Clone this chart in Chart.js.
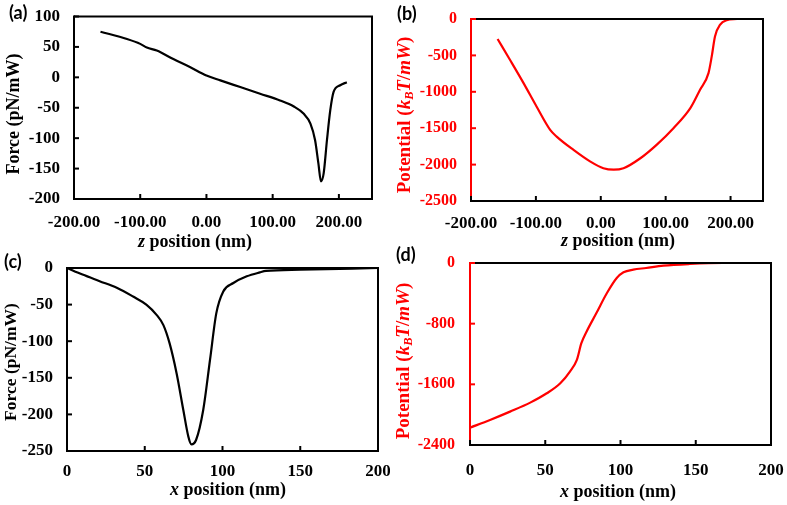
<!DOCTYPE html>
<html>
<head>
<meta charset="utf-8">
<script src="https://cdn.jsdelivr.net/npm/chart.js@4.4.1/dist/chart.umd.min.js"></script>
<style>
  html, body { margin: 0; padding: 0; background: #fff; }
  body { width: 787px; height: 505px; position: relative; overflow: hidden; }
  canvas { position: absolute; }
  .lbl { position: absolute; font-family: "Lato", "Open Sans", sans-serif; font-weight: bold; font-size: 18px; color: #000; line-height: 1; }
  .xt { position: absolute; font-family: "Liberation Serif", serif; font-weight: bold; font-size: 18px; color: #000; white-space: nowrap; transform: translate(-50%, -50%); line-height: 1; }
  .yt { position: absolute; font-family: "Liberation Serif", serif; font-weight: bold; font-size: 18px; white-space: nowrap; transform: translate(-50%, -50%) rotate(-90deg); line-height: 1; }
  .it { font-style: italic; }
  sub { font-size: 0.65em; vertical-align: -0.25em; }
</style>
</head>
<body>
<canvas id="ca" width="390" height="250" style="left:0;top:0"></canvas>
<canvas id="cb" width="397" height="250" style="left:390px;top:0"></canvas>
<canvas id="cc" width="390" height="255" style="left:0;top:250px"></canvas>
<canvas id="cd" width="397" height="255" style="left:390px;top:250px"></canvas>

<div class="lbl" style="left:9px;top:3px">(a)</div>
<div class="lbl" style="left:397px;top:4px">(b)</div>
<div class="lbl" style="left:4px;top:252px">(c)</div>
<div class="lbl" style="left:396px;top:245px">(d)</div>

<div class="xt" style="left:195px;top:241px"><span class="it">z</span> position (nm)</div>
<div class="xt" style="left:618px;top:240px"><span class="it">z</span> position (nm)</div>
<div class="xt" style="left:228px;top:489px"><span class="it">x</span> position (nm)</div>
<div class="xt" style="left:618px;top:491px"><span class="it">x</span> position (nm)</div>

<div class="yt" style="left:13px;top:114px;color:#000">Force (pN/mW)</div>
<div class="yt" style="left:405px;top:115px;color:#f00;font-size:19px">Potential (<span class="it">k<sub>B</sub>T</span>/<span class="it">mW</span>)</div>
<div class="yt" style="left:11px;top:362px;color:#000;font-size:17.5px">Force (pN/mW)</div>
<div class="yt" style="left:404px;top:361px;color:#f00;font-size:19px">Potential (<span class="it">k<sub>B</sub>T</span>/<span class="it">mW</span>)</div>

<script>
// ---- Data ----
const zPosA   = [-160, -120, -100, -90, -75, -50, -25, 0, 21, 51, 81, 111, 132, 147, 157, 164, 169, 173, 177, 182, 187, 192, 202, 212];
const forceA  = [75, 63, 55, 49, 44, 30, 17, 3, -5, -16, -27, -38, -48, -60, -76, -103, -141, -171, -158, -103, -54, -24, -13, -8];

const zPosB      = [-159, -140, -119, -99, -78, -68, -42, -16, 4, 20, 35, 61, 86, 112, 138, 153, 166, 171, 176, 184, 194, 210];
const potentialB = [-275, -560, -881, -1202, -1523, -1615, -1798, -1959, -2050, -2070, -2050, -1913, -1729, -1500, -1225, -972, -743, -514, -239, -78, -18, 0];

const xPosC  = [0, 10, 21, 32, 42.5, 51, 57.6, 62, 66, 70.5, 74.8, 78, 80, 83, 87.6, 92, 96, 100.5, 107, 115.6, 124, 128, 150, 200];
const forceC = [0, -9, -18, -27, -39, -50, -64, -78, -103, -144, -194, -230, -241, -235, -194, -125, -62, -32, -20.5, -11.4, -6, -4, -2.3, 0];

const xPosD      = [0, 13.3, 26.6, 40, 51, 60, 66.4, 71, 74, 77.5, 84, 91, 97.5, 102, 108.5, 117, 128.5, 146, 168, 200];
const potentialD = [-2171, -2070, -1960, -1841, -1718, -1585, -1431, -1277, -1057, -903, -660, -396, -198, -123, -88, -66, -35, -13, 0, 0];

// ---- Tick values ----
const zTicks      = [-200, -100, 0, 100, 200];
const xTicks      = [0, 50, 100, 150, 200];
const forceATicks = [100, 50, 0, -50, -100, -150, -200];
const potBTicks   = [0, -500, -1000, -1500, -2000, -2500];
const forceCTicks = [0, -50, -100, -150, -200, -250];
const potDTicks   = [0, -800, -1600, -2400];

const boxPlugin = {
  id: 'boxTicks',
  afterDraw(chart, args, opts) {
    const { ctx, chartArea: a, scales } = chart;
    ctx.save();
    ctx.lineWidth = 2;
    ctx.lineCap = 'butt';
    ctx.strokeStyle = '#000';
    ctx.beginPath();
    ctx.moveTo(a.left, a.top); ctx.lineTo(a.right, a.top); ctx.lineTo(a.right, a.bottom);
    ctx.stroke();
    ctx.strokeStyle = opts.yColor;
    ctx.beginPath(); ctx.moveTo(a.left, a.top - 1); ctx.lineTo(a.left, a.bottom); ctx.stroke();
    ctx.strokeStyle = '#000';
    ctx.beginPath(); ctx.moveTo(a.left - 1, a.bottom); ctx.lineTo(a.right + 1, a.bottom); ctx.stroke();
    scales.x.ticks.forEach(t => {
      const px = scales.x.getPixelForValue(t.value);
      ctx.beginPath(); ctx.moveTo(px, a.bottom); ctx.lineTo(px, a.bottom - 5); ctx.stroke();
    });
    ctx.strokeStyle = opts.yColor;
    scales.y.ticks.forEach(t => {
      if (t.value === scales.y.min) return;
      const py = scales.y.getPixelForValue(t.value);
      ctx.beginPath(); ctx.moveTo(a.left, py); ctx.lineTo(a.left + 5, py); ctx.stroke();
    });
    ctx.restore();
  }
};

function makePanel(id, p) {
  const c = document.getElementById(id);
  return new Chart(c, {
    type: 'scatter',
    data: { datasets: [{
      data: p.xs.map((x, i) => ({ x: x, y: p.ys[i] })),
      showLine: true,
      borderColor: p.lineColor,
      borderWidth: 2.2,
      pointRadius: 0,
      cubicInterpolationMode: 'monotone',
      fill: false
    }]},
    options: {
      responsive: false,
      animation: false,
      devicePixelRatio: 1,
      layout: { padding: { left: 0, right: p.padR, top: p.padT, bottom: 0 } },
      plugins: { legend: { display: false }, tooltip: { enabled: false }, boxTicks: { yColor: p.yColor } },
      scales: {
        x: {
          type: 'linear', min: p.xMin, max: p.xMax,
          grid: { display: false, drawTicks: false },
          border: { display: false },
          afterBuildTicks: s => { s.ticks = p.xTicks.map(v => ({ value: v })); },
          afterFit: s => { s.height = p.xH; s.paddingLeft = 0; s.paddingRight = 0; },
          ticks: {
            padding: p.xPad, color: '#000', maxRotation: 0, autoSkip: false,
            font: { family: 'Liberation Serif', weight: 'bold', size: p.xFont },
            callback: v => p.xFmt(v)
          }
        },
        y: {
          type: 'linear', min: p.yMin, max: p.yMax,
          grid: { display: false, drawTicks: false },
          border: { display: false },
          afterBuildTicks: s => { s.ticks = p.yTicks.map(v => ({ value: v })); },
          afterFit: s => { s.width = p.yW; s.paddingTop = 0; s.paddingBottom = 0; },
          ticks: {
            padding: p.yPad, color: p.yColor, autoSkip: false,
            font: { family: 'Liberation Serif', weight: 'bold', size: p.yFont },
            callback: v => String(v)
          }
        }
      }
    },
    plugins: [boxPlugin]
  });
}

const fmt2 = v => v.toFixed(2);
const fmt0 = v => String(v);

makePanel('ca', { xs: zPosA, ys: forceA, lineColor: '#000', yColor: '#000',
  xMin: -200, xMax: 250, yMin: -200, yMax: 100, xTicks: zTicks, yTicks: forceATicks,
  padR: 18, padT: 16.5, yW: 74, xH: 51, xPad: 13, yPad: 14, xFont: 17, yFont: 17, xFmt: fmt2 });

makePanel('cb', { xs: zPosB, ys: potentialB, lineColor: '#f00', yColor: '#f00',
  xMin: -200, xMax: 250, yMin: -2500, yMax: 0, xTicks: zTicks, yTicks: potBTicks,
  padR: 24, padT: 19, yW: 81, xH: 49, xPad: 12, yPad: 14, xFont: 17, yFont: 16, xFmt: fmt2 });

makePanel('cc', { xs: xPosC, ys: forceC, lineColor: '#000', yColor: '#000',
  xMin: 0, xMax: 200, yMin: -250, yMax: 0, xTicks: xTicks, yTicks: forceCTicks,
  padR: 12, padT: 18, yW: 67, xH: 54, xPad: 10, yPad: 14, xFont: 17, yFont: 17, xFmt: fmt0 });

makePanel('cd', { xs: xPosD, ys: potentialD, lineColor: '#f00', yColor: '#f00',
  xMin: 0, xMax: 200, yMin: -2400, yMax: 0, xTicks: xTicks, yTicks: potDTicks,
  padR: 16, padT: 13, yW: 80, xH: 60, xPad: 15, yPad: 15, xFont: 17, yFont: 16, xFmt: fmt0 });
</script>
</body>
</html>
